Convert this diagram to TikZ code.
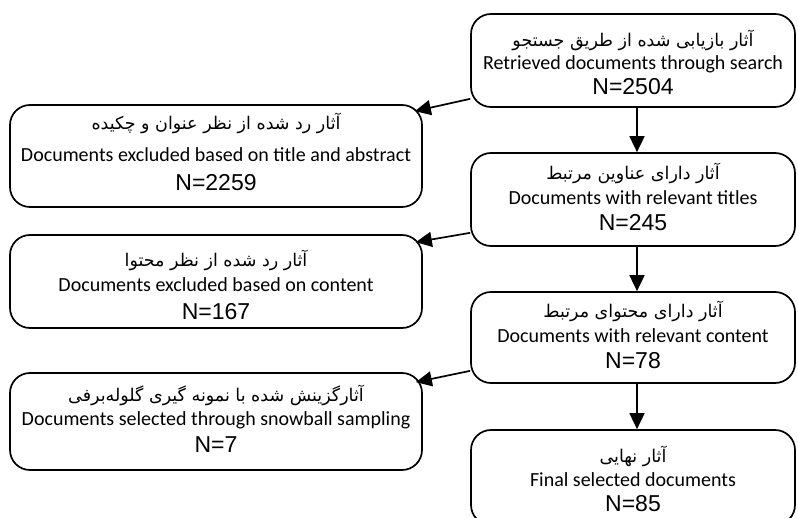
\documentclass[tikz,border=0pt]{standalone}
\usepackage{fontspec}
\setmainfont{Carlito}
\newfontfamily\numfont{Liberation Sans}
\newfontfamily\farsifont[Script=Arabic]{DejaVu Sans}
\TeXXeTstate=1
\usetikzlibrary{arrows.meta}

\begin{document}
\begin{tikzpicture}[x=1pt,y=-1pt,
  box/.style={draw, line width=1.7pt, rounded corners=20pt, inner sep=0pt},
  rbox/.style={box, minimum width=324pt},
  lbox/.style={box, minimum width=412pt},
  fa/.style={anchor=base, inner sep=0pt, font=\farsifont\fontsize{17.5}{20}\selectfont},
  en/.style={anchor=base, inner sep=0pt, font=\fontsize{20}{23}\selectfont},
  num/.style={anchor=base, inner sep=0pt, font=\numfont\fontsize{23}{26}\selectfont},
  flow/.style={line width=1.7pt, -{Triangle[length=16pt,width=15pt]}}]
\useasboundingbox (0,0) rectangle (798,518);

% main column (right)
\node[rbox, minimum height=93pt] (b1) at (633,60.5) {};
\node[fa]  (b1fa) at (633,47) {\beginR آثار بازیابی شده از طریق جستجو\endR};
\node[en]  (b1en) at (633,70) {Retrieved documents through search};
\node[num] (b1n)  at (633,95) {N=2504};

\node[rbox, minimum height=93pt] (b3) at (633,199.5) {};
\node[fa]  (b3fa) at (633,180) {\beginR آثار دارای عناوین مرتبط\endR};
\node[en]  (b3en) at (633,205) {Documents with relevant titles};
\node[num] (b3n)  at (633,231) {N=245};

\node[rbox, minimum height=91pt] (b5) at (633,337.5) {};
\node[fa]  (b5fa) at (633,318) {\beginR آثار دارای محتوای مرتبط\endR};
\node[en]  (b5en) at (633,343) {Documents with relevant content};
\node[num] (b5n)  at (633,369) {N=78};

\node[rbox, minimum height=95pt] (b7) at (633,477.5) {};
\node[fa]  (b7fa) at (633,463) {\beginR آثار نهایی\endR};
\node[en]  (b7en) at (633,486) {Final selected documents};
\node[num] (b7n)  at (633,511) {N=85};

% side column (left)
\node[lbox, minimum height=102pt] (b2) at (216,156) {};
\node[fa]  (b2fa) at (216,130) {\beginR آثار رد شده از نظر عنوان و چکیده\endR};
\node[en]  (b2en) at (216,162) {Documents excluded based on title and abstract};
\node[num] (b2n)  at (216,191) {N=2259};

\node[lbox, minimum height=93pt] (b4) at (216,281.5) {};
\node[fa]  (b4fa) at (216,267) {\beginR آثار رد شده از نظر محتوا\endR};
\node[en]  (b4en) at (216,292) {Documents excluded based on content};
\node[num] (b4n)  at (216,320) {N=167};

\node[lbox, minimum height=97pt] (b6) at (216,421.5) {};
\node[fa]  (b6fa) at (216,402) {\beginR آثارگزینش شده با نمونه گیری گلوله‌برفی\endR};
\node[en]  (b6en) at (216,426) {Documents selected through snowball sampling};
\node[num] (b6n)  at (216,453) {N=7};

% flow down the main column
\draw[flow] ([xshift=4pt]b1.south) -- ([xshift=4pt]b3.north);
\draw[flow] ([xshift=4pt]b3.south) -- ([xshift=4pt]b5.north);
\draw[flow] ([xshift=4pt]b5.south) -- ([xshift=4pt]b7.north);

% branches to the side column
\draw[flow] ([yshift=9pt]b1.south west)  -- ([xshift=-8pt,yshift=-7pt]b2.north east);
\draw[flow] ([yshift=14pt]b3.south west) -- ([xshift=-7pt,yshift=-8pt]b4.north east);
\draw[flow] ([yshift=13pt]b5.south west) -- ([xshift=-7pt,yshift=-10pt]b6.north east);
\end{tikzpicture}
\end{document}
